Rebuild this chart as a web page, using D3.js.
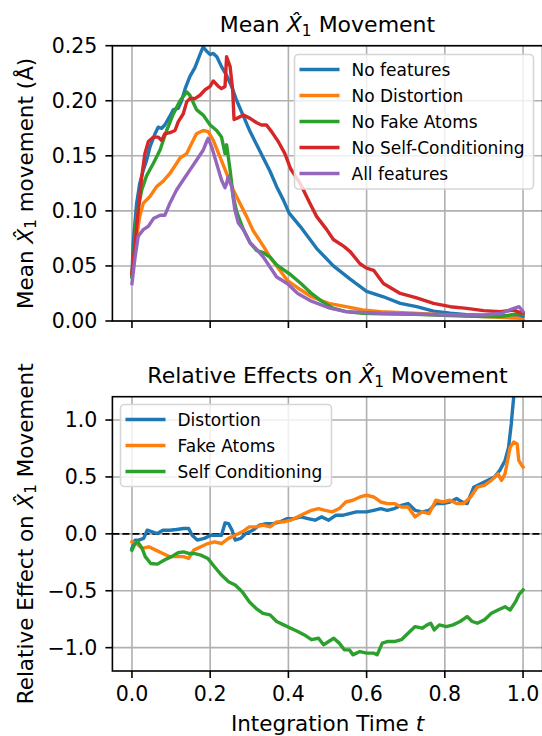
<!DOCTYPE html>
<html>
<head>
<meta charset="utf-8">
<script src="https://cdn.jsdelivr.net/npm/d3@7"></script>
<style>
  body { margin: 0; background: #fff; }
  svg { display: block; font-family: "DejaVu Sans", sans-serif; }
</style>
</head>
<body>
<svg id="chart" width="542" height="736"></svg>
<script>
// ---- data ----
// top panel: mean X1 movement per variant
const noFeatT = [0, 0.003, 0.012, 0.02, 0.029, 0.0375, 0.046, 0.059, 0.067, 0.076, 0.084, 0.097, 0.106, 0.118, 0.127, 0.136, 0.148, 0.161, 0.174, 0.182, 0.191, 0.2, 0.208, 0.217, 0.229, 0.242, 0.255, 0.268, 0.285, 0.302, 0.319, 0.336, 0.353, 0.37, 0.387, 0.402, 0.43, 0.472, 0.515, 0.558, 0.6, 0.643, 0.686, 0.728, 0.771, 0.814, 0.856, 0.9, 0.94, 0.98, 1.0];
const noFeatV = [0.04, 0.07, 0.107, 0.125, 0.137, 0.146, 0.158, 0.17, 0.176, 0.175, 0.178, 0.186, 0.192, 0.193, 0.2, 0.211, 0.222, 0.23, 0.242, 0.249, 0.245, 0.242, 0.243, 0.24, 0.231, 0.223, 0.213, 0.2, 0.186, 0.172, 0.16, 0.148, 0.136, 0.122, 0.11, 0.098, 0.086, 0.066, 0.05, 0.038, 0.027, 0.022, 0.016, 0.013, 0.009, 0.007, 0.0058, 0.005, 0.0045, 0.005, 0.004];

const noDistT = [0, 0.012, 0.02, 0.029, 0.046, 0.063, 0.08, 0.097, 0.114, 0.123, 0.14, 0.148, 0.165, 0.182, 0.195, 0.208, 0.225, 0.242, 0.259, 0.276, 0.293, 0.31, 0.336, 0.353, 0.37, 0.397, 0.424, 0.459, 0.503, 0.547, 0.59, 0.636, 0.72, 0.81, 0.9, 0.99, 1.0];
const noDistV = [0.045, 0.077, 0.095, 0.107, 0.113, 0.122, 0.127, 0.134, 0.143, 0.148, 0.152, 0.158, 0.17, 0.173, 0.172, 0.164, 0.149, 0.134, 0.119, 0.107, 0.095, 0.082, 0.068, 0.058, 0.05, 0.037, 0.03, 0.022, 0.016, 0.013, 0.01, 0.0085, 0.007, 0.0055, 0.004, 0.0025, 0.001];

const noFakeT = [0, 0.012, 0.025, 0.0375, 0.0546, 0.0716, 0.0887, 0.1057, 0.1228, 0.14, 0.148, 0.165, 0.182, 0.2, 0.2165, 0.229, 0.238, 0.242, 0.251, 0.259, 0.268, 0.285, 0.302, 0.319, 0.336, 0.353, 0.37, 0.39, 0.406, 0.432, 0.459, 0.485, 0.512, 0.547, 0.59, 0.636, 0.724, 0.81, 0.9, 0.945, 0.99, 1.0];
const noFakeV = [0.04, 0.095, 0.119, 0.132, 0.143, 0.155, 0.173, 0.188, 0.2, 0.208, 0.205, 0.192, 0.187, 0.178, 0.173, 0.167, 0.152, 0.16, 0.137, 0.113, 0.099, 0.083, 0.071, 0.064, 0.062, 0.058, 0.051, 0.046, 0.042, 0.034, 0.025, 0.018, 0.012, 0.0085, 0.007, 0.0065, 0.006, 0.005, 0.004, 0.004, 0.007, 0.006];

const noSelfT = [0, 0.008, 0.016, 0.025, 0.033, 0.042, 0.055, 0.067, 0.076, 0.084, 0.097, 0.11, 0.1185, 0.131, 0.14, 0.148, 0.161, 0.174, 0.187, 0.2, 0.208, 0.221, 0.229, 0.238, 0.242, 0.251, 0.2575, 0.261, 0.268, 0.285, 0.302, 0.319, 0.331, 0.344, 0.357, 0.374, 0.391, 0.406, 0.43, 0.455, 0.472, 0.498, 0.515, 0.541, 0.558, 0.583, 0.6, 0.618, 0.643, 0.686, 0.728, 0.771, 0.814, 0.856, 0.899, 0.942, 0.976, 0.993, 1.0];
const noSelfV = [0.043, 0.07, 0.1, 0.131, 0.152, 0.163, 0.167, 0.167, 0.164, 0.17, 0.171, 0.173, 0.181, 0.188, 0.199, 0.202, 0.202, 0.205, 0.21, 0.213, 0.218, 0.213, 0.211, 0.213, 0.24, 0.231, 0.21, 0.183, 0.184, 0.187, 0.184, 0.18, 0.178, 0.178, 0.172, 0.163, 0.152, 0.138, 0.125, 0.107, 0.095, 0.083, 0.074, 0.068, 0.063, 0.052, 0.048, 0.046, 0.034, 0.025, 0.021, 0.016, 0.013, 0.0115, 0.0094, 0.0085, 0.01, 0.0076, 0.007];

const allFeatT = [0, 0.008, 0.016, 0.029, 0.042, 0.055, 0.072, 0.084, 0.097, 0.114, 0.131, 0.148, 0.165, 0.182, 0.191, 0.195, 0.204, 0.2165, 0.229, 0.238, 0.242, 0.246, 0.255, 0.263, 0.272, 0.285, 0.302, 0.319, 0.336, 0.353, 0.37, 0.397, 0.424, 0.459, 0.503, 0.547, 0.636, 0.724, 0.81, 0.9, 0.945, 0.98, 0.99, 1.0];
const allFeatV = [0.034, 0.058, 0.077, 0.083, 0.086, 0.093, 0.096, 0.096, 0.107, 0.119, 0.128, 0.137, 0.146, 0.155, 0.163, 0.166, 0.158, 0.143, 0.128, 0.121, 0.125, 0.131, 0.122, 0.101, 0.089, 0.083, 0.071, 0.065, 0.058, 0.049, 0.04, 0.034, 0.025, 0.018, 0.012, 0.0085, 0.007, 0.0064, 0.0055, 0.0055, 0.007, 0.012, 0.013, 0.0085];

// bottom panel: relative effects
const distT = [0, 0.008, 0.017, 0.030, 0.039, 0.052, 0.065, 0.079, 0.096, 0.114, 0.132, 0.145, 0.154, 0.167, 0.185, 0.202, 0.216, 0.229, 0.238, 0.247, 0.256, 0.264, 0.278, 0.291, 0.309, 0.326, 0.344, 0.362, 0.379, 0.397, 0.415, 0.432, 0.450, 0.468, 0.485, 0.503, 0.521, 0.538, 0.556, 0.574, 0.600, 0.618, 0.636, 0.653, 0.671, 0.689, 0.706, 0.724, 0.742, 0.760, 0.777, 0.795, 0.813, 0.830, 0.844, 0.857, 0.874, 0.892, 0.910, 0.927, 0.941, 0.954, 0.963, 0.970, 0.976, 0.985];
const distV = [-0.128, -0.055, -0.055, -0.04, 0.032, 0.018, 0.003, 0.032, 0.032, 0.038, 0.047, 0.047, -0.012, -0.055, -0.04, -0.012, -0.012, -0.012, 0.096, 0.09, 0.032, -0.055, -0.04, 0.003, 0.032, 0.076, 0.09, 0.09, 0.105, 0.134, 0.134, 0.149, 0.134, 0.12, 0.149, 0.12, 0.163, 0.163, 0.178, 0.193, 0.193, 0.207, 0.222, 0.207, 0.222, 0.251, 0.266, 0.207, 0.193, 0.207, 0.266, 0.266, 0.28, 0.31, 0.28, 0.266, 0.41, 0.44, 0.47, 0.5, 0.56, 0.645, 0.76, 0.97, 1.2, 1.6];

const fakeT = [0, 0.012, 0.026, 0.043, 0.061, 0.079, 0.096, 0.114, 0.132, 0.145, 0.158, 0.176, 0.194, 0.211, 0.229, 0.247, 0.264, 0.282, 0.300, 0.317, 0.335, 0.353, 0.370, 0.388, 0.406, 0.424, 0.441, 0.459, 0.477, 0.494, 0.512, 0.530, 0.547, 0.565, 0.583, 0.600, 0.618, 0.636, 0.653, 0.671, 0.689, 0.706, 0.724, 0.742, 0.760, 0.777, 0.795, 0.813, 0.830, 0.848, 0.866, 0.883, 0.901, 0.919, 0.936, 0.945, 0.954, 0.967, 0.976, 0.985, 0.989, 0.994, 1.0];
const fakeV = [-0.07, -0.085, -0.128, -0.114, -0.143, -0.172, -0.2, -0.2, -0.2, -0.216, -0.143, -0.114, -0.085, -0.07, -0.085, -0.04, -0.012, 0.018, 0.061, 0.061, 0.076, 0.061, 0.105, 0.105, 0.12, 0.149, 0.178, 0.207, 0.222, 0.207, 0.193, 0.222, 0.28, 0.295, 0.324, 0.339, 0.324, 0.28, 0.266, 0.266, 0.236, 0.236, 0.149, 0.193, 0.178, 0.295, 0.28, 0.295, 0.266, 0.266, 0.324, 0.41, 0.426, 0.47, 0.528, 0.47, 0.528, 0.76, 0.806, 0.79, 0.645, 0.616, 0.587];

const selfT = [0, 0.008, 0.015, 0.026, 0.034, 0.048, 0.065, 0.083, 0.101, 0.118, 0.132, 0.145, 0.158, 0.176, 0.194, 0.211, 0.229, 0.247, 0.264, 0.282, 0.300, 0.317, 0.335, 0.353, 0.370, 0.388, 0.406, 0.424, 0.441, 0.459, 0.477, 0.490, 0.503, 0.516, 0.530, 0.543, 0.556, 0.565, 0.583, 0.600, 0.618, 0.627, 0.640, 0.653, 0.671, 0.689, 0.706, 0.724, 0.742, 0.755, 0.764, 0.773, 0.786, 0.804, 0.821, 0.839, 0.857, 0.870, 0.883, 0.901, 0.919, 0.936, 0.954, 0.967, 0.981, 0.989, 1.0];
const selfV = [-0.143, -0.085, -0.07, -0.128, -0.2, -0.26, -0.266, -0.23, -0.2, -0.166, -0.158, -0.172, -0.172, -0.187, -0.216, -0.289, -0.362, -0.42, -0.45, -0.508, -0.596, -0.654, -0.698, -0.712, -0.77, -0.8, -0.829, -0.858, -0.888, -0.93, -0.917, -0.975, -0.946, -0.917, -0.96, -1.019, -1.019, -1.063, -1.034, -1.048, -1.048, -1.063, -0.96, -0.946, -0.946, -0.93, -0.873, -0.815, -0.829, -0.8, -0.785, -0.844, -0.8, -0.815, -0.8, -0.77, -0.727, -0.77, -0.785, -0.756, -0.698, -0.669, -0.64, -0.669, -0.596, -0.537, -0.493];

// tick values
const xTicks = [0, 0.2, 0.4, 0.6, 0.8, 1.0];
const topYTicks = [0, 0.05, 0.10, 0.15, 0.20, 0.25];
const bottomYTicks = [-1.0, -0.5, 0, 0.5, 1.0];

const topNames = ['No features', 'No Distortion', 'No Fake Atoms', 'No Self-Conditioning', 'All features'];
const bottomNames = ['Distortion', 'Fake Atoms', 'Self Conditioning'];
const tab10 = ['#1f77b4', '#ff7f0e', '#2ca02c', '#d62728', '#9467bd'];

// ---- layout ----
const svg = d3.select('#chart');
const left = 112.4, right = 542.6;
const TICK_FS = 20.5, LABEL_FS = 21.5, TITLE_FS = 22, LEGEND_FS = 17;
const LW = 3.4, THIN = 1.6;

const x = d3.scaleLinear().domain([-0.05, 1.05]).range([left, right]);

const zip = (ts, vs) => ts.map((t, i) => [t, vs[i]]);

// writes "prefix X̂1 suffix" with matplotlib-ish mathtext
function mathText(sel, prefix, suffix) {
  sel.append('tspan').text(prefix);
  sel.append('tspan').attr('font-style', 'italic').text('X\u0302');
  sel.append('tspan').attr('font-size', '0.7em').attr('dy', '0.22em').text('1');
  sel.append('tspan').attr('dy', '-0.154em').text(suffix);
}

function drawPanel(cfg) {
  const y = d3.scaleLinear().domain(cfg.yDomain).range([cfg.bottom, cfg.top]);
  const g = svg.append('g');

  const clipId = 'clip-' + cfg.id;
  svg.append('clipPath').attr('id', clipId)
    .append('rect')
    .attr('x', left).attr('y', cfg.top)
    .attr('width', right - left).attr('height', cfg.bottom - cfg.top);

  // grid
  g.selectAll('.gx').data(xTicks).join('line')
    .attr('x1', d => x(d)).attr('x2', d => x(d))
    .attr('y1', cfg.top).attr('y2', cfg.bottom)
    .attr('stroke', '#b0b0b0').attr('stroke-width', THIN);
  g.selectAll('.gy').data(cfg.yTicks).join('line')
    .attr('x1', left).attr('x2', right)
    .attr('y1', d => y(d)).attr('y2', d => y(d))
    .attr('stroke', '#b0b0b0').attr('stroke-width', THIN);

  const plot = g.append('g').attr('clip-path', `url(#${clipId})`);
  if (cfg.zeroLine) {
    plot.append('line')
      .attr('x1', left).attr('x2', right)
      .attr('y1', y(0)).attr('y2', y(0))
      .attr('stroke', '#000').attr('stroke-width', THIN)
      .attr('stroke-dasharray', '7,3');
  }

  const line = d3.line().x(d => x(d[0])).y(d => y(d[1]));
  cfg.series.forEach((s, i) => {
    plot.append('path')
      .attr('d', line(s))
      .attr('fill', 'none')
      .attr('stroke', tab10[i])
      .attr('stroke-width', LW)
      .attr('stroke-linejoin', 'round')
      .attr('stroke-linecap', 'square');
  });

  // spines
  g.append('rect')
    .attr('x', left).attr('y', cfg.top)
    .attr('width', right - left).attr('height', cfg.bottom - cfg.top)
    .attr('fill', 'none').attr('stroke', '#000').attr('stroke-width', THIN);

  // x ticks
  g.selectAll('.tx').data(xTicks).join('line')
    .attr('x1', d => x(d)).attr('x2', d => x(d))
    .attr('y1', cfg.bottom).attr('y2', cfg.bottom + 7)
    .attr('stroke', '#000').attr('stroke-width', THIN);
  if (cfg.xLabels) {
    g.selectAll('.lx').data(xTicks).join('text')
      .attr('x', d => x(d)).attr('y', cfg.bottom + 30)
      .attr('text-anchor', 'middle').attr('font-size', TICK_FS)
      .text(d => d.toFixed(1));
  }

  // y ticks
  g.selectAll('.ty').data(cfg.yTicks).join('line')
    .attr('x1', left - 7).attr('x2', left)
    .attr('y1', d => y(d)).attr('y2', d => y(d))
    .attr('stroke', '#000').attr('stroke-width', THIN);
  g.selectAll('.ly').data(cfg.yTicks).join('text')
    .attr('x', left - 15).attr('y', d => y(d) + TICK_FS * 0.36)
    .attr('text-anchor', 'end').attr('font-size', TICK_FS)
    .text(d => d3.format(cfg.yFmt)(d).replace('-', '\u2212'));

  // title
  const title = g.append('text')
    .attr('x', (left + right) / 2).attr('y', cfg.top - 13.4)
    .attr('text-anchor', 'middle').attr('font-size', TITLE_FS);
  mathText(title, cfg.titlePre, cfg.titlePost);

  // y label
  const yl = g.append('text')
    .attr('transform', `translate(33,${(cfg.top + cfg.bottom) / 2}) rotate(-90)`)
    .attr('text-anchor', 'middle').attr('font-size', LABEL_FS);
  mathText(yl, cfg.yLabelPre, cfg.yLabelPost);

  // legend
  const lg = g.append('g');
  const L = cfg.legend;
  lg.append('rect')
    .attr('x', L.x).attr('y', L.y).attr('width', L.w).attr('height', L.h)
    .attr('rx', 4)
    .attr('fill', '#fff').attr('fill-opacity', 0.8)
    .attr('stroke', '#d6d6d6').attr('stroke-width', THIN);
  cfg.names.forEach((name, i) => {
    const ry = L.y + 15 + i * 26;
    lg.append('line')
      .attr('x1', L.x + 5).attr('x2', L.x + 45)
      .attr('y1', ry).attr('y2', ry)
      .attr('stroke', tab10[i]).attr('stroke-width', LW);
    lg.append('text')
      .attr('x', L.x + 57).attr('y', ry + LEGEND_FS * 0.36)
      .attr('font-size', LEGEND_FS)
      .text(name);
  });
  return y;
}

drawPanel({
  id: 'top', top: 45.7, bottom: 321,
  yDomain: [0, 0.25], yTicks: topYTicks, yFmt: '.2f',
  series: [zip(noFeatT, noFeatV), zip(noDistT, noDistV), zip(noFakeT, noFakeV), zip(noSelfT, noSelfV), zip(allFeatT, allFeatV)],
  names: topNames,
  titlePre: 'Mean ', titlePost: ' Movement',
  yLabelPre: 'Mean ', yLabelPost: ' movement (\u00C5)',
  legend: { x: 294.5, y: 54.5, w: 239, h: 134.5 },
  xLabels: false
});

drawPanel({
  id: 'bottom', top: 396.7, bottom: 671,
  yDomain: [-1.205, 1.205], yTicks: bottomYTicks, yFmt: '.1f',
  series: [zip(distT, distV), zip(fakeT, fakeV), zip(selfT, selfV)],
  names: bottomNames,
  titlePre: 'Relative Effects on ', titlePost: ' Movement',
  yLabelPre: 'Relative Effect on ', yLabelPost: ' Movement',
  legend: { x: 120.5, y: 404.5, w: 211, h: 82 },
  zeroLine: true,
  xLabels: true
});

// x axis label
const xl = svg.append('text')
  .attr('x', (left + right) / 2).attr('y', 731)
  .attr('text-anchor', 'middle').attr('font-size', LABEL_FS);
xl.append('tspan').text('Integration Time ');
xl.append('tspan').attr('font-style', 'italic').text('t');
</script>
</body>
</html>
